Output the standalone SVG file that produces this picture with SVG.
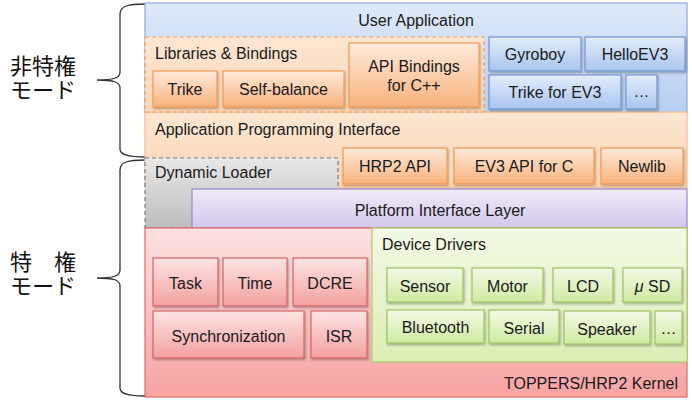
<svg xmlns="http://www.w3.org/2000/svg" width="692" height="404" viewBox="0 0 692 404">
<defs>
<linearGradient id="gBlueBg" x1="0" y1="0" x2="0" y2="1"><stop offset="0" stop-color="#dfe9f9"/><stop offset="1" stop-color="#b7cef2"/></linearGradient>
<linearGradient id="gBlue" x1="0" y1="0" x2="0" y2="1"><stop offset="0" stop-color="#e4edfb"/><stop offset="1" stop-color="#a8c4ef"/></linearGradient>
<linearGradient id="gOrBg" x1="0" y1="0" x2="0" y2="1"><stop offset="0" stop-color="#fde6d2"/><stop offset="1" stop-color="#fcd6b4"/></linearGradient>
<linearGradient id="gOr" x1="0" y1="0" x2="0" y2="1"><stop offset="0" stop-color="#feeadb"/><stop offset="1" stop-color="#f8b27c"/></linearGradient>
<linearGradient id="gGray" x1="0" y1="0" x2="0" y2="1"><stop offset="0" stop-color="#e8e8e8"/><stop offset="1" stop-color="#bdbdbd"/></linearGradient>
<linearGradient id="gPur" x1="0" y1="0" x2="0" y2="1"><stop offset="0" stop-color="#f0ebf8"/><stop offset="1" stop-color="#d3c7ec"/></linearGradient>
<linearGradient id="gRedBg" x1="0" y1="0" x2="0" y2="1"><stop offset="0" stop-color="#fde2e2"/><stop offset="1" stop-color="#f6a3a3"/></linearGradient>
<linearGradient id="gRed" x1="0" y1="0" x2="0" y2="1"><stop offset="0" stop-color="#fde4e4"/><stop offset="1" stop-color="#f3a0a0"/></linearGradient>
<linearGradient id="gGrBg" x1="0" y1="0" x2="0" y2="1"><stop offset="0" stop-color="#f3f9e5"/><stop offset="1" stop-color="#dbefb6"/></linearGradient>
<linearGradient id="gGr" x1="0" y1="0" x2="0" y2="1"><stop offset="0" stop-color="#f4fae7"/><stop offset="1" stop-color="#cfeaa1"/></linearGradient>
<filter id="sh" x="-10%" y="-10%" width="130%" height="140%"><feDropShadow dx="1" dy="1.5" stdDeviation="0.8" flood-color="#000" flood-opacity="0.3"/></filter>
</defs>
<style>
text{font-family:"Liberation Sans","Noto Sans CJK JP",Arial,sans-serif;font-size:16px;fill:#1a1a1a}
.c{text-anchor:middle}
.r{text-anchor:end}
.jp{font-family:"Noto Sans CJK JP",sans-serif;font-size:22px;fill:#111}
.blue{fill:url(#gBlue);stroke:#7396d0;stroke-width:1.2;filter:url(#sh)}
.or{fill:url(#gOr);stroke:#f29a52;stroke-width:1.2;filter:url(#sh)}
.red{fill:url(#gRed);stroke:#d46464;stroke-width:1.2;filter:url(#sh)}
.gr{fill:url(#gGr);stroke:#9fc164;stroke-width:1.2;filter:url(#sh)}
.brace{fill:none;stroke:#333;stroke-width:1.3}
</style>

<g id="braces">
<path class="brace" d="M145,4 C128,4 120,6 120,14 L120,72 C120,78 114,80 97,80 C114,80 120,82 120,88 L120,149 C120,155 128,157 145,157"/>
<path class="brace" d="M145,160 C128,160 120,162 120,170 L120,270 C120,276 114,278 97,278 C114,278 120,280 120,286 L120,388 C120,394 128,396 145,396"/>
</g>
<g id="label-nonpriv"><text class="jp" x="10" y="74">非特権<tspan x="10" dy="24">モード</tspan></text></g>
<g id="label-priv"><text class="jp" x="10" y="270">特　権<tspan x="10" dy="24">モード</tspan></text></g>

<g id="user-application">
<rect x="145" y="3" width="542" height="110" fill="url(#gBlueBg)" stroke="#8eaadb" stroke-width="1.2"/>
<text class="c" x="416" y="26">User Application</text>
</g>
<g id="api-layer">
<rect x="145" y="112" width="542" height="76" fill="url(#gOrBg)" stroke="#f6b98a" stroke-width="1.2"/>
<text x="155" y="135">Application Programming Interface</text>
</g>
<g id="libraries">
<rect x="145" y="37" width="339" height="75" fill="url(#gOrBg)" stroke="#f59a50" stroke-width="1.2" stroke-dasharray="4,3"/>
<text x="155" y="59">Libraries &amp; Bindings</text>
</g>
<g id="trike"><rect class="or" x="153" y="71" width="64" height="36"/><text class="c" x="185" y="95">Trike</text></g>
<g id="self-balance"><rect class="or" x="223" y="71" width="121" height="36"/><text class="c" x="283.5" y="95">Self-balance</text></g>
<g id="api-bindings-cpp"><rect class="or" x="349" y="43" width="130" height="64"/><text class="c" x="414" y="72">API Bindings</text><text class="c" x="414" y="91">for C++</text></g>
<g id="gyroboy"><rect class="blue" x="489" y="37" width="92" height="34"/><text class="c" x="535" y="60">Gyroboy</text></g>
<g id="helloev3"><rect class="blue" x="585" y="37" width="100" height="34"/><text class="c" x="635" y="60">HelloEV3</text></g>
<g id="trike-ev3"><rect class="blue" x="489" y="75" width="132" height="34"/><text class="c" x="555" y="98">Trike for EV3</text></g>
<g id="app-more"><rect class="blue" x="626" y="75" width="31" height="34"/><text class="c" x="641.5" y="97">…</text></g>

<g id="hrp2-api"><rect class="or" x="343" y="148" width="104" height="36"/><text class="c" x="395" y="172">HRP2 API</text></g>
<g id="ev3-api-c"><rect class="or" x="454" y="148" width="140" height="36"/><text class="c" x="524" y="172">EV3 API for C</text></g>
<g id="newlib"><rect class="or" x="601" y="148" width="82" height="36"/><text class="c" x="642" y="172">Newlib</text></g>

<g id="dynamic-loader">
<rect x="145" y="158" width="193" height="70" fill="url(#gGray)" stroke="#7a7a7a" stroke-width="1.2" stroke-dasharray="4,3"/>
<text x="155" y="178">Dynamic Loader</text>
</g>
<g id="platform-interface-layer">
<rect x="192" y="189" width="495" height="39" fill="url(#gPur)" stroke="#9a85c8" stroke-width="1.2"/>
<text class="c" x="440" y="216">Platform Interface Layer</text>
</g>

<g id="kernel">
<rect x="145" y="228" width="542" height="169" fill="url(#gRedBg)" stroke="#e06a6a" stroke-width="1.2"/>
<text class="r" x="678" y="389">TOPPERS/HRP2 Kernel</text>
</g>
<g id="task"><rect class="red" x="153" y="258" width="65" height="48"/><text class="c" x="185.5" y="289">Task</text></g>
<g id="time"><rect class="red" x="223" y="258" width="64" height="48"/><text class="c" x="255" y="289">Time</text></g>
<g id="dcre"><rect class="red" x="293" y="258" width="74" height="48"/><text class="c" x="330" y="289">DCRE</text></g>
<g id="synchronization"><rect class="red" x="153" y="311" width="151" height="47"/><text class="c" x="228.5" y="342">Synchronization</text></g>
<g id="isr"><rect class="red" x="311" y="311" width="56" height="47"/><text class="c" x="339" y="342">ISR</text></g>

<g id="device-drivers">
<rect x="372" y="228" width="315" height="134" fill="url(#gGrBg)" stroke="#a9cf6a" stroke-width="1.2"/>
<text x="382" y="250">Device Drivers</text>
</g>
<g id="sensor"><rect class="gr" x="387" y="268" width="76" height="34"/><text class="c" x="425" y="292">Sensor</text></g>
<g id="motor"><rect class="gr" x="472" y="268" width="71" height="34"/><text class="c" x="507.5" y="292">Motor</text></g>
<g id="lcd"><rect class="gr" x="553" y="268" width="60" height="34"/><text class="c" x="583" y="292">LCD</text></g>
<g id="usd"><rect class="gr" x="623" y="268" width="59" height="34"/><text class="c" x="652.5" y="292"><tspan font-style="italic">μ</tspan> SD</text></g>
<g id="bluetooth"><rect class="gr" x="387" y="310" width="97" height="33"/><text class="c" x="435.5" y="333">Bluetooth</text></g>
<g id="serial"><rect class="gr" x="489" y="310" width="70" height="33"/><text class="c" x="524" y="334">Serial</text></g>
<g id="speaker"><rect class="gr" x="564" y="311" width="86" height="33"/><text class="c" x="607" y="335">Speaker</text></g>
<g id="drv-more"><rect class="gr" x="655" y="311" width="27" height="33"/><text class="c" x="668.5" y="334">…</text></g>
</svg>
